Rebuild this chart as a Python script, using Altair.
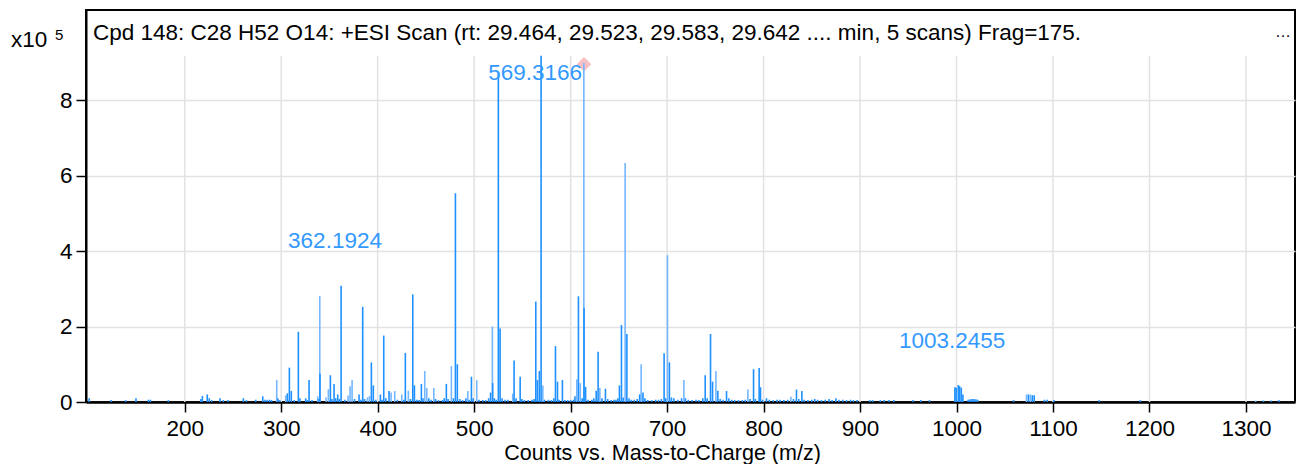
import altair as alt
import pandas as pd

FONT = "Liberation Sans"
DARK = "#1e90ff"
LIGHT = "#74b6ff"
LABEL_BLUE = "#3399ff"
FS = 22.5

title_text = "Cpd 148: C28 H52 O14: +ESI Scan (rt: 29.464, 29.523, 29.583, 29.642 .... min, 5 scans) Frag=175."
x_title = "Counts vs. Mass-to-Charge (m/z)"

x_ticks = [200, 300, 400, 500, 600, 700, 800, 900, 1000, 1100, 1200, 1300]
y_ticks = [0, 2, 4, 6, 8]

# peaks: m/z, intensity (x10^5)
peak_mz = [
    101.0, 123.6, 138.8, 149.5, 162.3, 164.5, 183.0, 216.6, 218.3, 223.4, 225.5, 228.0, 236.6, 240.0, 245.0,
    260.8, 264.0, 273.6, 280.9, 283.0, 285.5, 288.0, 290.0, 295.4, 296.5, 298.5,
    304.7, 306.4, 308.5, 310.5, 313.5, 317.8, 319.5, 325.4, 327.0, 328.9, 332.0, 337.9, 339.0, 340.0, 340.2,
    346.5, 348.9, 351.0, 352.5, 354.8, 356.5, 358.6, 360.3, 362.1, 366.0, 369.3, 371.4, 373.5, 376.0, 380.7,
    382.5, 384.5, 386.5, 389.5, 391.5, 393.5, 395.5, 398.0, 402.8, 404.5, 406.3, 408.5, 411.8, 413.9, 417.7,
    420.5, 425.0, 427.0, 428.7, 431.8, 434.0, 436.4, 438.1, 440.5, 443.0, 445.3, 447.0, 448.8, 450.9, 453.0,
    455.5, 458.2, 460.0, 463.0, 467.0, 469.0, 471.2, 473.0, 476.4, 478.5, 480.6, 482.6, 485.0, 488.0, 491.5,
    493.4, 495.0, 497.2, 499.0, 502.7, 505.0, 509.0, 512.0, 515.0, 517.0, 518.9, 519.2, 521.0, 523.0, 525.1,
    526.9, 529.0, 532.0, 535.0, 540.0, 541.4, 543.5, 547.7, 549.5, 552.0, 556.0, 560.0, 562.2, 563.9, 565.6,
    567.6, 569.4, 571.2, 573.0, 577.0, 580.0, 582.5, 584.3, 586.4, 588.0, 591.5, 594.0, 597.0, 600.0, 603.0,
    604.5, 606.4, 608.1, 610.0, 612.0, 613.7, 613.9, 615.5, 618.0, 622.0, 624.0, 626.5, 628.5, 630.3, 632.5,
    636.1, 638.5, 642.0, 645.0, 647.0, 649.0, 650.6, 652.7, 654.5, 656.5, 658.3, 660.5, 663.0, 666.0, 669.0,
    671.5, 673.1, 675.0, 677.0, 680.0, 684.0, 688.0, 691.0, 694.0, 696.9, 698.5, 700.4, 702.4, 704.5, 707.0,
    711.0, 715.0, 717.4, 719.0, 722.0, 726.0, 730.0, 733.0, 737.0, 739.5, 741.5, 745.0, 747.1, 750.6, 752.6,
    755.0, 758.0, 761.6, 764.0, 767.0, 770.0, 774.0, 778.0, 781.0, 783.7, 786.0, 789.6, 791.5, 795.4, 796.8,
    799.0, 803.0, 806.0, 810.0, 814.0, 817.0, 821.0, 825.0, 828.3, 831.0, 834.1, 836.5, 839.7, 842.0, 846.0,
    850.0, 853.0, 856.0, 860.0, 864.0, 868.0, 871.0, 875.0, 878.0, 882.0, 886.0, 890.0, 893.0, 897.0, 910.0,
    913.0, 921.0, 925.0, 930.0, 935.0, 955.0, 963.0, 972.0, 998.3, 999.6, 1001.8, 1003.2, 1004.9, 1006.6, 1012.0,
    1014.0, 1016.0, 1018.0, 1020.0, 1022.0, 1059.0, 1072.5, 1074.5, 1076.5, 1078.5, 1080.5, 1091.0, 1094.0, 1101.0,
    1148.0, 1190.5, 1310.0, 1318.0, 1326.0, 1334.0,
]
peak_int = [
    0.10, 0.05, 0.05, 0.10, 0.06, 0.06, 0.05, 0.08, 0.16, 0.20, 0.10, 0.05, 0.10, 0.05, 0.05,
    0.10, 0.05, 0.06, 0.15, 0.06, 0.06, 0.06, 0.05, 0.58, 0.10, 0.05,
    0.18, 0.23, 0.91, 0.29, 0.05, 1.86, 0.10, 0.10, 0.05, 0.58, 0.05, 0.15, 0.08, 2.81, 0.75,
    0.12, 0.34, 0.71, 0.08, 0.48, 0.10, 0.20, 0.08, 3.08, 0.06, 0.17, 0.42, 0.58, 0.08, 0.20,
    0.06, 2.52, 0.08, 0.12, 0.16, 1.05, 0.44, 0.06, 0.20, 0.06, 1.76, 0.10, 0.29, 0.25, 0.29,
    0.06, 0.20, 0.06, 1.30, 0.30, 0.08, 2.85, 0.44, 0.06, 0.05, 0.48, 0.10, 0.82, 0.37, 0.10,
    0.06, 0.37, 0.08, 0.05, 0.05, 0.10, 0.48, 0.08, 0.95, 0.10, 5.53, 1.00, 0.08, 0.05, 0.10,
    0.29, 0.06, 0.67, 0.10, 0.58, 0.06, 0.05, 0.05, 0.10, 0.25, 2.00, 0.50, 0.10, 0.06, 8.70,
    1.95, 0.10, 0.06, 0.06, 0.22, 1.10, 0.10, 0.67, 0.08, 0.05, 0.05, 0.06, 0.08, 2.66, 0.58,
    0.82, 9.17, 0.44, 0.06, 0.06, 0.05, 0.10, 1.48, 0.54, 0.06, 0.58, 0.05, 0.05, 0.05, 0.06,
    0.15, 0.60, 2.80, 0.50, 0.10, 8.98, 2.50, 0.40, 0.06, 0.06, 0.10, 0.30, 1.33, 0.37, 0.10,
    0.35, 0.08, 0.05, 0.06, 0.06, 0.10, 0.44, 2.04, 0.12, 6.33, 1.80, 0.10, 0.06, 0.06, 0.08,
    0.20, 1.00, 0.25, 0.10, 0.05, 0.05, 0.06, 0.06, 0.08, 1.29, 0.10, 3.89, 1.05, 0.12, 0.10,
    0.06, 0.10, 0.58, 0.10, 0.06, 0.05, 0.06, 0.05, 0.10, 0.71, 0.10, 1.80, 0.54, 0.82, 0.30,
    0.08, 0.06, 0.29, 0.10, 0.06, 0.05, 0.05, 0.05, 0.06, 0.33, 0.08, 0.87, 0.08, 0.90, 0.39,
    0.06, 0.10, 0.06, 0.05, 0.06, 0.06, 0.05, 0.06, 0.14, 0.08, 0.33, 0.08, 0.29, 0.06, 0.05,
    0.06, 0.08, 0.06, 0.05, 0.06, 0.08, 0.05, 0.10, 0.06, 0.06, 0.05, 0.06, 0.05, 0.05, 0.05,
    0.05, 0.05, 0.05, 0.05, 0.05, 0.05, 0.05, 0.05, 0.39, 0.38, 0.45, 0.42, 0.38, 0.20, 0.06,
    0.07, 0.08, 0.08, 0.07, 0.06, 0.05, 0.20, 0.20, 0.20, 0.18, 0.18, 0.06, 0.06, 0.05,
    0.05, 0.05, 0.04, 0.04, 0.04, 0.05,
]
# peaks drawn in the lighter blue
light_mz = [295.4, 304.7, 337.9, 340.0, 346.5, 348.9, 369.3, 371.4, 373.5, 389.5, 391.5, 413.9, 417.7, 425.0,
            431.8, 448.8, 450.9, 458.2, 476.4, 493.4, 502.7, 518.9, 540.0, 571.2, 606.4, 610.0, 613.7, 630.3,
            656.5, 673.1, 700.4, 717.4, 750.6, 783.7, 828.3, 1072.5, 1076.5, 1310.0]

# annotation labels: text, anchor m/z, anchor height (x10^5)
label_text = ["569.3166", "362.1924", "1003.2455"]
label_mz = [563.2, 355.8, 995.5]
label_y = [8.72, 4.26, 1.62]

# precursor marker
prec_mz = [613.9]
prec_y = [8.95]

grid_top = 9.166

peaks = pd.DataFrame({"mz": peak_mz, "inten": peak_int})
peaks["shade"] = ["l" if m in light_mz else "d" for m in peak_mz]
peaks["order"] = [0 if s == "l" else 1 for s in peaks["shade"]]
peaks = peaks.sort_values("order", kind="stable")

PLOT_W = 1209
PLOT_H = 392
XDOM = [97.7, 97.7 + PLOT_W / 0.9648]
YDOM = [0, PLOT_H / 37.75]

xs = alt.Scale(domain=XDOM, nice=False, zero=False)
ys = alt.Scale(domain=YDOM, nice=False, zero=True)

x_axis = alt.Axis(
    values=x_ticks, grid=False, title=x_title, format="d", tickSize=10, tickWidth=1.5, tickColor="black",
    labelFontSize=FS, labelColor="black", labelPadding=23, labelBaseline="alphabetic",
    domainColor="black", domainWidth=2.5, titleFontSize=21.5, titleFontWeight="normal",
    titleColor="black", titleX=576, titleY=57.5, titleBaseline="alphabetic", titleAlign="center",
    labelFlush=False,
)
y_axis = alt.Axis(
    values=y_ticks, grid=True, gridColor="#e2e2e2", gridWidth=1.5, title=None, tickSize=10,
    tickWidth=1.5, tickColor="black", labelFontSize=FS, labelColor="black", labelPadding=4,
    domainColor="black", domainWidth=2,
)

base_axes = alt.Chart(pd.DataFrame({"x": [XDOM[0]], "y": [0]})).mark_point(opacity=0).encode(
    x=alt.X("x:Q", scale=xs, axis=x_axis),
    y=alt.Y("y:Q", scale=ys, axis=y_axis),
)

vgrid = alt.Chart(pd.DataFrame({"x": x_ticks, "y0": [0] * len(x_ticks), "y1": [grid_top] * len(x_ticks)})).mark_rule(
    color="#e2e2e2", strokeWidth=1.5
).encode(
    x=alt.X("x:Q", scale=xs),
    y=alt.Y("y0:Q", scale=ys),
    y2="y1:Q",
)

prec = alt.Chart(pd.DataFrame({"mz": prec_mz, "y": prec_y})).mark_point(
    shape="diamond", filled=True, size=210, color="#f7b9bd", opacity=0.9
).encode(x=alt.X("mz:Q", scale=xs), y=alt.Y("y:Q", scale=ys))

bars = alt.Chart(peaks).mark_rule(strokeWidth=1.6).encode(
    x=alt.X("mz:Q", scale=xs),
    y=alt.Y("inten:Q", scale=ys),
    y2=alt.datum(0),
    color=alt.Color("shade:N", scale=alt.Scale(domain=["d", "l"], range=[DARK, LIGHT]), legend=None),
)

labels = alt.Chart(pd.DataFrame({"mz": label_mz, "y": label_y, "t": label_text})).mark_text(
    fontSize=FS, color=LABEL_BLUE, align="center", baseline="middle"
).encode(x=alt.X("mz:Q", scale=xs), y=alt.Y("y:Q", scale=ys), text="t:N")

title = alt.Chart(pd.DataFrame({"t": [title_text]})).mark_text(
    fontSize=FS, color="black", align="left", baseline="alphabetic"
).encode(text="t:N", x=alt.value(7), y=alt.value(30))
ell = alt.Chart(pd.DataFrame({"t": ["…"]})).mark_text(
    fontSize=16, color="black", align="center", baseline="alphabetic"
).encode(text="t:N", x=alt.value(1197), y=alt.value(27))
x10 = alt.Chart(pd.DataFrame({"t": ["x10"]})).mark_text(
    fontSize=FS, color="black", align="left", baseline="alphabetic"
).encode(text="t:N", x=alt.value(-75), y=alt.value(37))
sup = alt.Chart(pd.DataFrame({"t": ["5"]})).mark_text(
    fontSize=15, color="black", align="left", baseline="alphabetic"
).encode(text="t:N", x=alt.value(-31), y=alt.value(29.5))

chart = alt.layer(base_axes, vgrid, prec, bars, labels, title, ell, x10, sup).properties(
    width=PLOT_W, height=PLOT_H,
    autosize=alt.AutoSizeParams(type="none"),
    padding={"left": 78, "top": 2, "right": 1, "bottom": 62},
).configure(font=FONT).configure_view(stroke="black", strokeWidth=2)

chart.save("out.html", embed_options={"renderer": "svg", "actions": False})
